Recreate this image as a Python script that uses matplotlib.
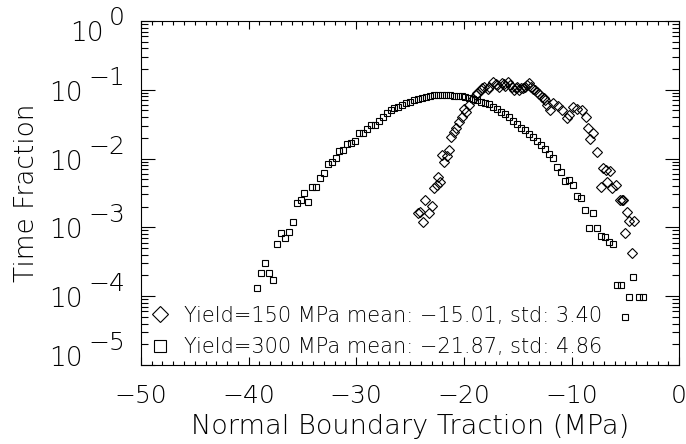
import matplotlib
matplotlib.use("Agg")
import matplotlib.pyplot as plt
from matplotlib import font_manager
from matplotlib.lines import Line2D
from matplotlib.ticker import MultipleLocator, LogLocator, NullFormatter
from matplotlib.transforms import offset_copy

# thin, wide face closest to the IDL vector font
thin = font_manager.findfont(font_manager.FontProperties(family="DejaVu Sans", weight=200))
if "ExtraLight" in thin:
    plt.rcParams["font.family"] = ["DejaVu Sans"]
    plt.rcParams["font.weight"] = 200
else:
    plt.rcParams["font.family"] = ["Roboto", "DejaVu Sans"]
    plt.rcParams["font.weight"] = "light"
plt.rcParams["axes.labelweight"] = plt.rcParams["font.weight"]

# Yield = 300 MPa (squares): traction (MPa), log10 of time fraction
sq_x = [-39.19, -38.82, -38.44, -38.07, -37.70, -37.33, -36.99, -36.62, -36.27, -35.90,
        -35.53, -35.16, -34.82, -34.45, -34.11, -33.74, -33.36, -32.99, -32.65, -32.28,
        -31.91, -31.57, -31.20, -30.83, -30.46, -30.08, -29.75, -29.38, -29.00, -28.66,
        -28.29, -27.92, -27.55, -27.17, -26.80, -26.46, -26.09, -25.72, -25.35, -24.97,
        -24.63, -24.26, -23.88, -23.55, -23.18, -22.81, -22.44, -22.07, -21.70, -21.33,
        -20.96, -20.59, -20.22, -19.85, -19.48, -19.11, -18.74, -18.37, -18.00, -17.63,
        -17.26, -16.89, -16.52, -16.15, -15.78, -15.41, -15.04, -14.67, -14.30, -13.93,
        -13.56, -13.19, -12.82, -12.45, -12.08, -11.71, -11.34, -10.97, -10.60, -10.23,
        -9.86, -9.49, -9.12, -8.75, -8.38, -8.01, -7.64, -7.27, -6.90, -6.53,
        -6.16, -5.79, -5.42, -5.05, -4.68, -4.31, -3.72, -3.35]
sq_logy = [-3.885, -3.663, -3.517, -3.663, -3.760, -3.241, -3.081, -3.159, -3.063, -2.917,
           -2.650, -2.600, -2.505, -2.630, -2.408, -2.417, -2.287, -2.209, -2.074, -2.045,
           -1.996, -1.885, -1.875, -1.793, -1.769, -1.744, -1.633, -1.633, -1.575, -1.512,
           -1.512, -1.449, -1.390, -1.342, -1.298, -1.269, -1.245, -1.221, -1.197, -1.172,
           -1.148, -1.138, -1.124, -1.100, -1.085, -1.080, -1.076, -1.076, -1.071, -1.076,
           -1.085, -1.090, -1.095, -1.105, -1.118, -1.138, -1.153, -1.180, -1.200, -1.215,
           -1.254, -1.284, -1.318, -1.350, -1.395, -1.450, -1.505, -1.551, -1.590, -1.640,
           -1.690, -1.750, -1.802, -1.860, -1.930, -1.996, -2.127, -2.200, -2.321, -2.311,
           -2.384, -2.539, -2.568, -2.747, -3.004, -2.795, -3.004, -3.125, -3.135, -3.217,
           -3.241, -3.837, -3.837, -4.307, -4.007, -3.716, -4.007, -4.007]

# Yield = 150 MPa (diamonds)
di_x = [-24.22, -24.05, -23.83, -23.61, -23.23, -22.98, -22.82, -22.53, -22.38, -22.22,
        -22.07, -21.84, -21.60, -21.38, -21.23, -20.91, -20.73, -20.42, -20.20, -19.98,
        -19.80, -19.49, -19.12, -18.90, -18.75, -18.44, -18.30, -18.12, -17.80, -17.63,
        -17.26, -17.00, -16.89, -16.70, -16.48, -16.30, -16.17, -15.86, -15.70, -15.55,
        -15.33, -15.20, -15.03, -14.90, -14.72, -14.50, -14.31, -14.10, -13.92, -13.80,
        -13.61, -13.40, -13.24, -13.00, -12.77, -12.60, -12.46, -12.24, -11.99, -11.68,
        -11.21, -10.90, -10.44, -10.20, -9.83, -9.46, -9.06, -8.64, -8.43, -8.27,
        -7.96, -7.59, -7.29, -7.12, -6.81, -6.67, -6.41, -6.27, -5.86, -5.48,
        -5.30, -5.17, -5.00, -4.80, -4.63, -4.39, -4.19]
di_logy = [-2.795, -2.780, -2.917, -2.610, -2.795, -2.689, -2.432, -2.384, -2.263, -2.345,
           -1.948, -2.054, -1.962, -1.875, -1.691, -1.608, -1.560, -1.463, -1.390, -1.284,
           -1.318, -1.221, -1.138, -1.080, -1.051, -1.003, -0.980, -0.964, -0.990, -0.955,
           -0.882, -0.920, -0.930, -0.960, -0.906, -0.920, -0.945, -0.882, -0.930, -0.955,
           -1.003, -0.980, -0.955, -1.000, -0.979, -0.970, -0.955, -0.930, -0.906, -0.960,
           -0.993, -1.010, -1.027, -1.060, -1.100, -1.120, -1.148, -1.221, -1.294, -1.197,
           -1.236, -1.294, -1.414, -1.366, -1.254, -1.284, -1.294, -1.390, -1.560, -1.720,
           -1.633, -1.899, -2.417, -2.141, -2.166, -2.335, -2.175, -2.432, -2.384, -2.602,
           -2.600, -2.602, -3.077, -2.780, -2.902, -3.377, -2.902]

labels = ["Yield=150 MPa mean: \u221215.01, std: 3.40",
          "Yield=300 MPa mean: \u221221.87, std: 4.86"]
decades = [-5, -4, -3, -2, -1, 0]

fig = plt.figure(figsize=(6.86, 4.44), dpi=100)
ax = fig.add_axes([0.2055, 0.178, 0.7845, 0.775])

ax.plot(di_x, [10.0 ** v for v in di_logy], ls="none", marker="D", ms=5,
        mfc="none", mec="black", mew=0.8)
ax.plot(sq_x, [10.0 ** v for v in sq_logy], ls="none", marker="s", ms=5,
        mfc="none", mec="black", mew=0.8)

ax.set_xlim(-50, 0)
ax.set_yscale("log")
ax.set_ylim(1e-5, 1)

ax.xaxis.set_minor_locator(MultipleLocator(1))
ax.yaxis.set_major_locator(LogLocator(base=10, numticks=10))
ax.yaxis.set_minor_locator(LogLocator(base=10, subs=range(2, 10), numticks=10))
ax.yaxis.set_minor_formatter(NullFormatter())
ax.set_yticklabels([])
ax.tick_params(which="both", direction="in", top=True, right=True, width=0.8, colors="black")
ax.tick_params(axis="x", which="major", length=6, pad=14, labelsize=18)
ax.tick_params(axis="x", which="minor", length=3)
ax.tick_params(axis="y", which="major", length=10, labelleft=False)
ax.tick_params(axis="y", which="minor", length=5)
for s in ax.spines.values():
    s.set_linewidth(0.8)

# y tick labels as "10" with a full-size exponent; end labels are kept inside the frame
ytr = ax.get_yaxis_transform()
shift = {0: -9, -5: 10}
for k in decades:
    e = ax.text(-0.03, 10.0 ** k, str(k).replace("-", "\u2212"),
                transform=offset_copy(ytr, fig, x=0, y=5 + shift.get(k, 0), units="dots"),
                ha="right", va="baseline", fontsize=18)
    ax.annotate("10", xy=(0, 0), xycoords=e, xytext=(-5, -11),
                textcoords="offset pixels", ha="right", va="baseline", fontsize=19)

ax.set_xlabel("Normal Boundary Traction (MPa)", fontsize=19.5, labelpad=4)
ax.set_ylabel("Time Fraction", fontsize=19, labelpad=70)

handles = [Line2D([], [], ls="none", marker="D", ms=8, mfc="none", mec="black", mew=0.8),
           Line2D([], [], ls="none", marker="s", ms=9, mfc="none", mec="black", mew=0.8)]
ax.legend(handles, labels, loc="lower left", bbox_to_anchor=(0.0167, 0.023),
          frameon=False, fontsize=15, handlelength=1.0, handletextpad=0.62,
          labelspacing=0.55, borderpad=0, borderaxespad=0)

fig.savefig("out.png", dpi=100)
